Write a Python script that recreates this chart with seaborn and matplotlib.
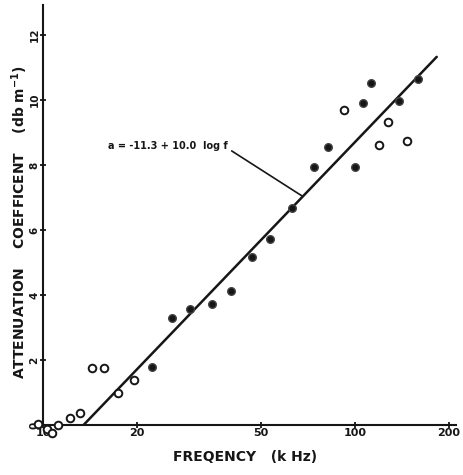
import numpy as np
import pandas as pd
import seaborn as sns
import matplotlib.pyplot as plt

# values
freq_khz = [9.64, 10.3, 10.7, 11.2, 12.2, 13.1, 14.4, 15.7, 17.4, 19.6,
            22.3, 25.9, 29.6, 34.8, 40.1, 46.8, 53.4, 62.8, 73.9, 81.9,
            92.2, 100.0, 106.0, 112.5, 119.4, 127.6, 138.4, 146.9, 159.2]
atten_db = [0.03, -0.12, -0.25, 0.0, 0.22, 0.37, 1.75, 1.75, 0.98, 1.38,
            1.78, 3.29, 3.57, 3.72, 4.12, 5.17, 5.72, 6.68, 7.94, 8.55,
            9.69, 7.94, 9.91, 10.52, 8.62, 9.32, 9.97, 8.74, 10.65]
filled = [False, False, False, False, False, False, False, False, False, False,
          True, True, True, True, True, True, True, True, True, True,
          False, True, True, True, False, False, True, False, True]

# fitted line a = -11.3 + 10.0 log f, drawn between these frequencies
fit_a0 = -11.3
fit_slope = 10.0
fit_range = [13.5, 183.0]

x_ticks = [10, 20, 50, 100, 200]
y_ticks = [0, 2, 4, 6, 8, 10, 12]

df = pd.DataFrame({'freq': freq_khz, 'atten': atten_db,
                   'kind': ['filled' if f else 'open' for f in filled]})

f_line = np.array(fit_range)
line_df = pd.DataFrame({'freq': f_line,
                        'atten': fit_a0 + fit_slope * np.log10(f_line)})

sns.set_style('ticks')
plt.rcParams['font.family'] = ['DejaVu Sans']
plt.rcParams['font.weight'] = 'bold'

ink = '#161616'
fig = plt.figure(figsize=(4.63, 4.75), dpi=100)
ax = fig.add_axes([43/463, 50/475, 413/463, 420/475])
ax.set_xscale('log')

sns.lineplot(data=line_df, x='freq', y='atten', color=ink, lw=1.8, ax=ax)
sns.scatterplot(data=df[df.kind == 'open'], x='freq', y='atten', ax=ax,
                marker='o', s=30, facecolor='white', edgecolor=ink,
                linewidth=1.4, clip_on=False, zorder=3)
sns.scatterplot(data=df[df.kind == 'filled'], x='freq', y='atten', ax=ax,
                marker='o', s=30, color=ink, edgecolor='#444444',
                linewidth=1.0, clip_on=False, zorder=3)

ax.set_xlim(10, 211)
ax.set_ylim(0, 12.92)
ax.set_xticks(x_ticks)
ax.set_xticklabels([str(t) for t in x_ticks], fontsize=8, fontweight='bold')
ax.xaxis.set_minor_locator(plt.NullLocator())
ax.set_yticks(y_ticks)
ax.set_yticklabels([str(t) for t in y_ticks], fontsize=7.5,
                   fontweight='bold', rotation=90, va='center')
ax.tick_params(axis='both', direction='inout', length=5, width=1.3,
               color=ink, labelcolor=ink, pad=0)
ax.set_xlabel('')
ax.set_ylabel('')
sns.despine(ax=ax)
for side in ['left', 'bottom']:
    ax.spines[side].set_linewidth(1.5)
    ax.spines[side].set_color(ink)

ax.annotate('a = -11.3 + 10.0  log f', xy=(67.6, 7.05), xytext=(16.1, 8.58),
            fontsize=7, fontweight='bold', color=ink, ha='left', va='center',
            arrowprops=dict(arrowstyle='-', color=ink, lw=1.2,
                            relpos=(1.0, 0.3), shrinkA=1, shrinkB=0))

fig.text(245/463, 1 - 457/475, 'FREQENCY   (k Hz)', fontsize=10,
         fontweight='bold', color=ink, ha='center', va='center')
fig.text(20/463, 1 - 222/475, 'ATTENUATION    COEFFICENT    (db m$^{-1}$)',
         fontsize=10, fontweight='bold', color=ink, ha='center', va='center',
         rotation=90)

fig.savefig('out.png', dpi=100)
